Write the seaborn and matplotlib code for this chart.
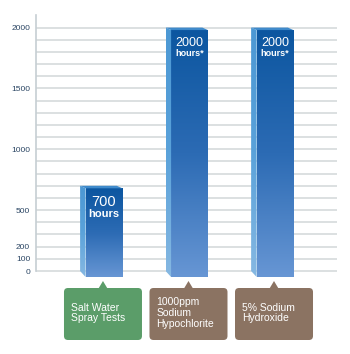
import numpy as np
import pandas as pd
import matplotlib
matplotlib.use("Agg")
import matplotlib.pyplot as plt
import seaborn as sns
from matplotlib.colors import LinearSegmentedColormap
from matplotlib.patches import Polygon, FancyBboxPatch
from matplotlib.transforms import IdentityTransform

# ---- data ----
categories = ["Salt Water\nSpray Tests", "1000ppm\nSodium\nHypochlorite", "5% Sodium\nHydroxide"]
hours = [700, 2000, 2000]
value_labels = ["700", "2000", "2000"]
unit_labels = ["hours", "hours*", "hours*"]
tick_values = list(range(0, 2001, 100))
labelled_ticks = [0, 100, 200, 500, 1000, 1500, 2000]

# ---- styles ----
box_colors = ["#5b9d69", "#8b7362", "#8b7362"]
value_sizes = [10.5, 9.0, 9.0]
unit_sizes = [8.0, 6.5, 6.5]

sns.set_theme(style="white")
plt.rcParams["font.family"] = ["Liberation Sans", "DejaVu Sans"]

W, H = 350, 354
fig = plt.figure(figsize=(W / 100, H / 100), dpi=100)
ax = fig.add_axes([36 / W, 0.2138, (337 - 36) / W, 0.7427])

df = pd.DataFrame({"test": categories, "hours": hours})
sns.barplot(data=df, x="test", y="hours", width=0.43, color="#1f62ad", ax=ax,
            zorder=3, errorbar=None)

ax.set_xlim(-0.795, 2.725)
ax.set_ylim(-60, 2100)

# data units per pixel
ypx = (2100 + 60) / (H * 0.7427)
xpx = (2.725 + 0.795) / (337 - 36)

front_cmap = LinearSegmentedColormap.from_list("front", ["#6796d4", "#2c6bb4", "#0c56a0"])
side_cmap = LinearSegmentedColormap.from_list("side", ["#86b8e2", "#5aa2da", "#4c98d4"])
grad = np.linspace(0, 1, 256).reshape(-1, 1)

bar_centers = []
for i, p in enumerate(ax.patches):
    x0, w, v = p.get_x(), p.get_width(), p.get_height()
    p.set_visible(False)
    cx = x0 + w / 2
    bar_centers.append(cx)
    top = v - 2.5 * ypx
    bottom = -6 * ypx
    dx = 5.5 * xpx
    # front face
    ax.imshow(grad, extent=[x0, x0 + w, bottom, top], origin="lower",
              aspect="auto", cmap=front_cmap, zorder=3, clip_on=False)
    # left side face
    side = Polygon([(x0 - dx, 0), (x0 - dx, v), (x0, top), (x0, bottom)],
                   closed=True, facecolor="none", edgecolor="none")
    ax.add_patch(side)
    im = ax.imshow(grad, extent=[x0 - dx, x0, bottom, v], origin="lower",
                   aspect="auto", cmap=side_cmap, zorder=3, clip_on=True)
    im.set_clip_path(side)
    # top face
    ax.add_patch(Polygon([(x0 - dx, v), (x0 + w - dx, v), (x0 + w, top), (x0, top)],
                         closed=True, facecolor="#3f8acb", edgecolor="none", zorder=3))
    # value labels
    off1, off2 = (16, 28) if i == 0 else (15, 25.5)
    ax.text(cx, v - off1 * ypx, value_labels[i], color="white", ha="center",
            va="center", fontsize=value_sizes[i], zorder=5)
    ax.text(cx, v - off2 * ypx, unit_labels[i], color="white", ha="center",
            va="center", fontsize=unit_sizes[i], fontweight="bold", zorder=5)

ax.set_xlim(-0.795, 2.725)
ax.set_ylim(-60, 2100)

# axes styling
ax.set_yticks(tick_values)
ax.set_yticklabels([str(t) if t in labelled_ticks else "" for t in tick_values])
ax.tick_params(axis="y", direction="inout", length=3.5, width=1.1, color="#2b4560",
               labelsize=6, labelcolor="#2a4563", pad=2.5)
ax.tick_params(axis="x", bottom=False, labelbottom=False)
ax.set_xlabel("")
ax.set_ylabel("")
ax.grid(axis="y", color="#d6dadb", lw=1.2)
ax.set_axisbelow(True)
for s in ["top", "right", "bottom"]:
    ax.spines[s].set_visible(False)
ax.spines["left"].set_color("#c6ced3")
ax.spines["left"].set_linewidth(1.2)
ax.spines["left"].set_bounds(0, 2100)

# category callout boxes below the bars
box_w, box_top, box_bot, r = 78, H - 288, H - 340, 4
for i, cx in enumerate(bar_centers):
    px = ax.transData.transform((cx, 0))[0] - 1
    left = px - box_w / 2
    box = FancyBboxPatch((left + r, box_bot + r), box_w - 2 * r, box_top - box_bot - 2 * r,
                         boxstyle=f"round,pad={r}", facecolor=box_colors[i],
                         edgecolor="none", transform=IdentityTransform())
    fig.add_artist(box)
    tri = Polygon([(px - 4.5, box_top - 0.5), (px + 4.5, box_top - 0.5), (px, box_top + 7)],
                  closed=True, facecolor=box_colors[i], edgecolor="none",
                  transform=IdentityTransform())
    fig.add_artist(tri)
    fig.text(left + 7, (box_top + box_bot) / 2 + 1, categories[i], color="white",
             ha="left", va="center", multialignment="left", fontsize=7.5,
             linespacing=1.1, transform=IdentityTransform())

fig.savefig("out.png", dpi=100)
